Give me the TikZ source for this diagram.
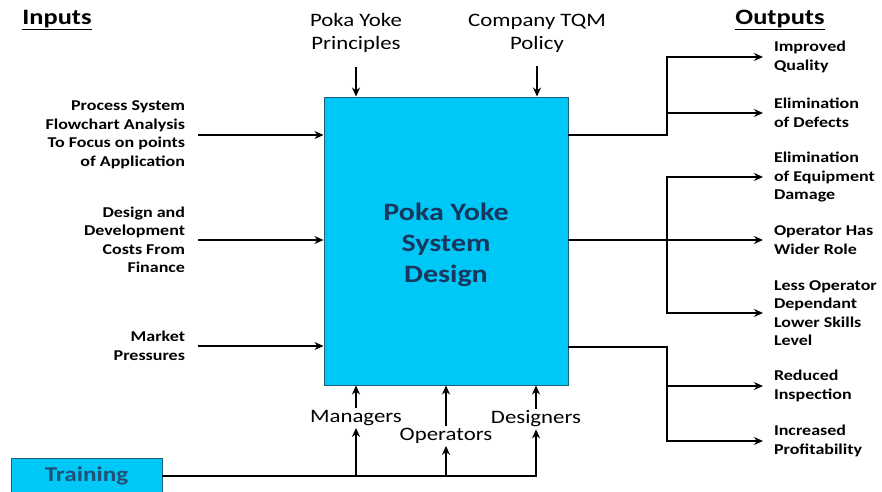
\documentclass[tikz,border=0pt]{standalone}
\usepackage{fontspec}
\setmainfont[FakeStretch=1.2]{Carlito}
\usetikzlibrary{arrows.meta,positioning}
\definecolor{boxcyan}{RGB}{0,200,246}
\definecolor{boxedge}{RGB}{28,96,124}
\definecolor{navy}{RGB}{23,55,94}
\definecolor{trainblue}{RGB}{31,80,120}

\begin{document}
\begin{tikzpicture}[x=1pt, y=-1pt,
  ln/.style={line width=2pt, line cap=rect},
  arr/.style={-{Stealth[length=9pt,width=8pt]}, line width=2pt},
  inlbl/.style={font=\fontsize{15}{18.5}\selectfont\bfseries, align=right, anchor=east, inner sep=0pt, outer xsep=13pt},
  outlbl/.style={font=\fontsize{15}{18.5}\selectfont\bfseries, align=left, anchor=west, inner sep=0pt, outer xsep=11pt},
  biglbl/.style={font=\fontsize{19}{23}\selectfont, align=center, inner sep=2pt},
  hdr/.style={font=\fontsize{22}{26}\selectfont\bfseries}]
  \useasboundingbox (0,0) rectangle (882,491);
  \node[hdr] (inp) at (57,20) {\underline{Inputs}};
  \node[hdr] (outp) at (780,20) {\underline{Outputs}};
  \node[draw=boxedge, line width=1pt, fill=boxcyan, minimum width=244pt, minimum height=288pt] (box) at (446,241) {};
  \node[font=\fontsize{25}{31}\selectfont\bfseries, text=navy, align=center] (title) at (446,245) {Poka Yoke\\ System\\ Design};
  \node[biglbl] (prin) at (356,33) {Poka Yoke\\ Principles};
  \node[biglbl] (tqm) at (537,33) {Company TQM\\ Policy};
  \draw[arr] ([yshift=-12pt]prin.south) -- (prin |- box.north);
  \draw[arr] ([yshift=-12pt]tqm.south) -- (tqm |- box.north);
  \node[inlbl] (flow) at (198,135) {Process System\\ Flowchart Analysis\\ To Focus on points\\ of Application};
  \node[inlbl] (cost) at (198,240) {Design and\\ Development\\ Costs From\\ Finance};
  \node[inlbl] (mkt) at (198,346) {Market\\ Pressures};
  \foreach \n in {flow,cost,mkt} \draw[arr] (\n) -- (\n -| box.west);
  \node[biglbl] (mgr) at (356,418) {Managers};
  \node[biglbl] (opr) at (446,436) {Operators};
  \node[biglbl] (dsg) at (536,419) {Designers};
  \foreach \n in {mgr,opr,dsg} \draw[arr] (\n) -- (\n |- box.south);
  \node[draw=boxedge, fill=boxcyan, minimum width=151pt, minimum height=36pt, font=\fontsize{21}{25}\selectfont\bfseries, text=trainblue] (train) at (86.5,476) {Training};
  \draw[arr] (train) -| (dsg);
  \foreach \n in {mgr,opr} \draw[arr] (\n |- train) -- (\n);
  \coordinate (j1) at (667,135);
  \coordinate (j2) at (667,240);
  \coordinate (j3) at (667,347);
  \node[outlbl] (qual) at (763,57) {Improved\\ Quality};
  \node[outlbl] (defc) at (763,113) {Elimination\\ of Defects};
  \node[outlbl] (dmg) at (763,177) {Elimination\\ of Equipment\\ Damage};
  \node[outlbl] (role) at (763,240) {Operator Has\\ Wider Role};
  \node[outlbl] (skill) at (763,313) {Less Operator\\ Dependant\\ Lower Skills\\ Level};
  \node[outlbl] (insp) at (763,386) {Reduced\\ Inspection};
  \node[outlbl] (prof) at (763,441) {Increased\\ Profitability};
  \foreach \j in {j1,j2,j3} \draw[ln] (\j -| box.east) -- (\j);
  \foreach \j/\n in {j1/qual,j1/defc,j2/dmg,j2/role,j2/skill,j3/insp,j3/prof} \draw[arr] (\j) |- (\n);
\end{tikzpicture}
\end{document}
